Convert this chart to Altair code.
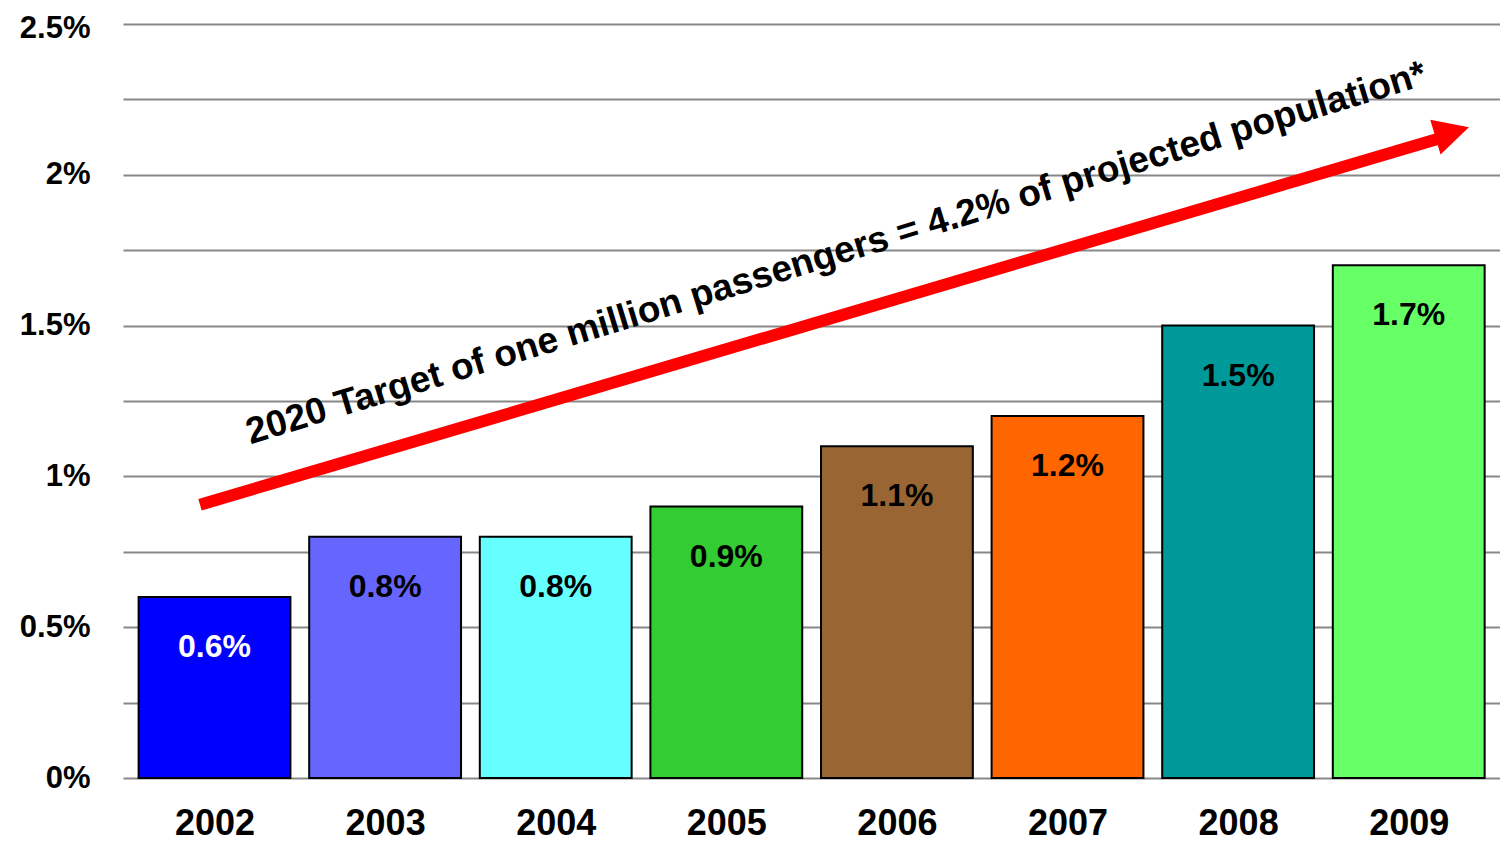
import altair as alt
import pandas as pd

# ---- data ----
years = ["2002", "2003", "2004", "2005", "2006", "2007", "2008", "2009"]
shares = [0.6, 0.8, 0.8, 0.9, 1.1, 1.2, 1.5, 1.7]
value_labels = ["0.6%", "0.8%", "0.8%", "0.9%", "1.1%", "1.2%", "1.5%", "1.7%"]
bar_colors = ["#0000FF", "#6666FF", "#66FFFF", "#33CC33", "#996633", "#FF6600", "#009999", "#66FF66"]
label_colors = ["#FFFFFF", "#000000", "#000000", "#000000", "#000000", "#000000", "#000000", "#000000"]

# annotation arrow (data units: x = bar index, y = percent)
arrow_start_x = [-0.085]
arrow_start_y = [0.906]
arrow_end_x = [7.213]
arrow_end_y = [2.126]
arrow_tip_x = [7.353]
arrow_tip_y = [2.158]
note_text = ["2020 Target of one million passengers = 4.2% of projected population*"]
note_x = [3.664]
note_y = [1.704]

y_ticks = [0, 0.25, 0.5, 0.75, 1.0, 1.25, 1.5, 1.75, 2.0, 2.25, 2.5]

FONT = "Liberation Sans"
HALF = 0.445
X_DOMAIN = [-0.5364, 7.535]
Y_DOMAIN = [0, 2.5]

bars_df = pd.DataFrame({
    "idx": list(range(len(years))),
    "year": years,
    "share": shares,
    "label": value_labels,
    "color": bar_colors,
    "lcolor": label_colors,
})
arrow_df = pd.DataFrame({"x": arrow_start_x, "y": arrow_start_y, "x2": arrow_end_x, "y2": arrow_end_y})
tip_df = pd.DataFrame({"x": arrow_tip_x, "y": arrow_tip_y})
note_df = pd.DataFrame({"x": note_x, "y": note_y, "text": note_text})

xs = alt.Scale(domain=X_DOMAIN, nice=False, zero=False)
ys = alt.Scale(domain=Y_DOMAIN, nice=False, zero=True)

year_expr = "[" + ",".join("'" + y + "'" for y in years) + "][datum.value]"

x_axis = alt.Axis(
    values=list(range(len(years))), labelExpr=year_expr, title=None,
    grid=False, domain=False, ticks=False, tickSize=0,
    labelFont=FONT, labelFontSize=36, labelFontWeight="bold", labelColor="#000000",
    labelPadding=28,
)
y_axis = alt.Axis(
    values=y_ticks, labelExpr="datum.value % 0.5 == 0 ? datum.value + '%' : ''",
    title=None, grid=True, gridColor="#888888", gridWidth=2, domain=False,
    ticks=False, tickSize=0, labelFont=FONT, labelFontSize=31, labelFontWeight="bold",
    labelColor="#000000", labelPadding=33,
    labelOffset={"condition": {"test": "datum.value == 2.5", "value": 4}, "value": 0},
)


def X(field):
    return alt.X(field, scale=xs, axis=x_axis, title=None)


def Y(field):
    return alt.Y(field, scale=ys, axis=y_axis, title=None)


base = alt.Chart(bars_df).transform_calculate(
    x0=f"datum.idx - {HALF}", x1=f"datum.idx + {HALF}", zero="0"
)

bars = base.mark_bar(stroke="#000000", strokeWidth=2).encode(
    x=X("x0:Q"),
    x2="x1:Q",
    y=Y("share:Q"),
    y2="zero:Q",
    fill=alt.Fill("color:N", scale=None),
)

bar_text = alt.Chart(bars_df).mark_text(
    font=FONT, fontSize=32, fontWeight="bold", baseline="alphabetic", align="center", dy=60
).encode(
    x=X("idx:Q"),
    y=Y("share:Q"),
    text="label:N",
    color=alt.Color("lcolor:N", scale=None),
)

arrow = alt.Chart(arrow_df).mark_rule(color="#FF0000", strokeWidth=12, strokeCap="butt").encode(
    x=X("x:Q"),
    y=Y("y:Q"),
    x2="x2:Q",
    y2="y2:Q",
)

tip = alt.Chart(tip_df).mark_point(
    shape="M0,0L-2,-1.03L-2,1.03Z", filled=True, size=1225, angle=343.45,
    color="#FF0000", opacity=1, strokeWidth=0,
).encode(
    x=X("x:Q"),
    y=Y("y:Q"),
)

note = alt.Chart(note_df).mark_text(
    font=FONT, fontSize=37, fontWeight="bold", angle=343, align="center",
    baseline="alphabetic", color="#000000",
).encode(
    x=X("x:Q"),
    y=Y("y:Q"),
    text="text:N",
)

chart = alt.layer(bars, bar_text, arrow, tip, note).properties(
    width=1377, height=754,
    autosize=alt.AutoSizeParams(type="none"),
    padding={"left": 115, "top": 16, "right": 0, "bottom": 64},
    background="#FFFFFF",
).configure_view(stroke=None)

chart.save("out.html", embed_options={"renderer": "svg", "actions": False})
